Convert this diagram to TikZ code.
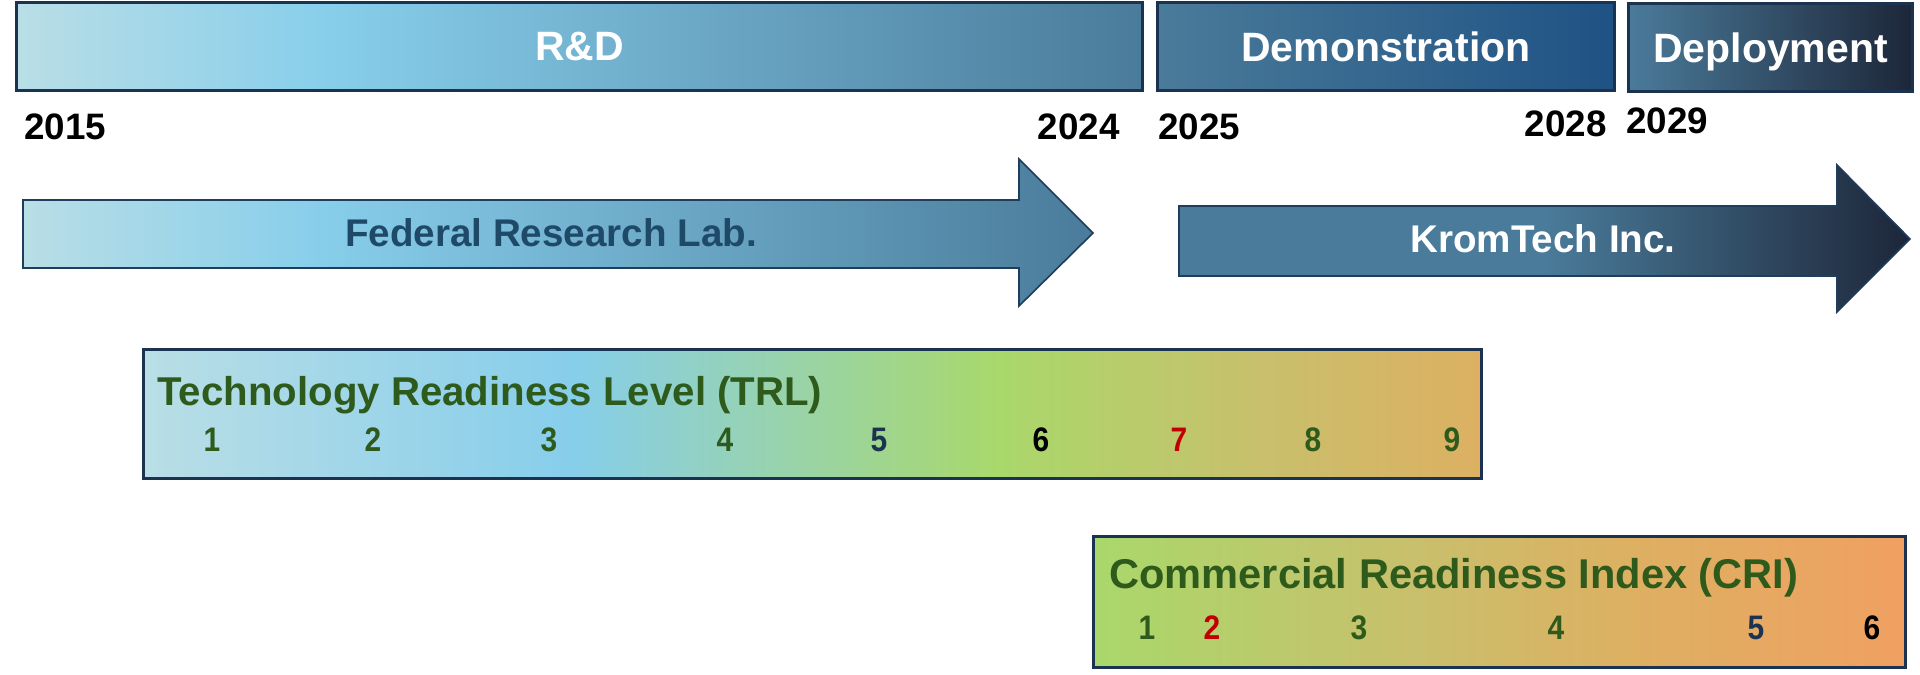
\documentclass[tikz,border=0pt]{standalone}
\usepackage{fontspec}
\setmainfont{Liberation Sans}
\newfontfamily\narrowfont[FakeStretch=0.88]{Liberation Sans}
\usetikzlibrary{positioning}

\definecolor{framenavy}{HTML}{1B3350}
\definecolor{arrowline}{HTML}{1F3D5C}
\definecolor{paleblue}{HTML}{B9DEE6}
\definecolor{skyblue}{HTML}{87CEEB}
\definecolor{steel}{HTML}{4A7B9A}
\definecolor{royal}{HTML}{1F5284}
\definecolor{midnight}{HTML}{1D2639}
\definecolor{lime}{HTML}{A9D86B}
\definecolor{sand}{HTML}{C9BF6C}
\definecolor{ochre}{HTML}{DDB062}
\definecolor{peach}{HTML}{F0A062}
\definecolor{leaf}{HTML}{2E5A1C}
\definecolor{ink}{HTML}{1E4A68}
\definecolor{alert}{HTML}{C00000}

% colour ramps (inner 25bp..75bp fills the path)
\pgfdeclarehorizontalshading{rdfade}{100bp}{color(0bp)=(paleblue); color(25bp)=(paleblue); color(39bp)=(skyblue); color(75bp)=(steel); color(100bp)=(steel)}
\pgfdeclarehorizontalshading{demofade}{100bp}{color(0bp)=(steel); color(25bp)=(steel); color(75bp)=(royal); color(100bp)=(royal)}
\pgfdeclarehorizontalshading{deployfade}{100bp}{color(0bp)=(steel); color(25bp)=(steel); color(75bp)=(midnight); color(100bp)=(midnight)}
\pgfdeclarehorizontalshading{kromfade}{100bp}{color(0bp)=(steel); color(25bp)=(steel); color(50bp)=(steel); color(75bp)=(midnight); color(100bp)=(midnight)}
\pgfdeclarehorizontalshading{trlfade}{100bp}{color(0bp)=(paleblue); color(25bp)=(paleblue); color(41bp)=(skyblue); color(57bp)=(lime); color(67bp)=(sand); color(75bp)=(ochre); color(100bp)=(ochre)}
\pgfdeclarehorizontalshading{crifade}{100bp}{color(0bp)=(lime); color(25bp)=(lime); color(45bp)=(sand); color(58bp)=(ochre); color(75bp)=(peach); color(100bp)=(peach)}

\begin{document}
\begin{tikzpicture}[
        x=0.5pt, y=-0.5pt,
        phase/.style={rectangle, draw=framenavy, line width=1.5pt, minimum height=44pt, inner sep=0pt, text depth=0pt, text=white, font=\fontsize{20.5}{24}\selectfont\bfseries},
        year/.style={inner sep=0pt, font=\fontsize{18.4}{21}\selectfont\bfseries},
        band/.style={draw=arrowline, line width=0.8pt},
        bandlabel/.style={inner sep=0pt, font=\fontsize{19.3}{23}\selectfont\bfseries},
        scalebox/.style={rectangle, draw=framenavy, line width=1.5pt, inner sep=0pt},
        scaletitle/.style={inner sep=0pt, anchor=west, text=leaf},
        level/.style={inner sep=0pt, font=\narrowfont\fontsize{17}{20}\selectfont\bfseries}
    ]

        \fill[white] (0,0) rectangle (1920,674);
        \useasboundingbox (0,0) rectangle (1920,674);

        % Phases
        \node [phase, shading=rdfade, minimum width=563pt] (rd) at (579.5,46.5) {R\&D};
        \node [phase, shading=demofade, minimum width=228.5pt] (demo) at (1386,46.5) {Demonstration};
        \node [phase, shading=deployfade, minimum width=142pt] (deploy) at (1770.5,47.5) {Deployment};

        % Years
        \node [year, anchor=west] (y2015) at (24,127) {2015};
        \node [year, anchor=east] (y2024) at (1120,127) {2024};
        \node [year, anchor=west] (y2025) at (1158,127) {2025};
        \node [year, anchor=east] (y2028) at (1607,124) {2028};
        \node [year, anchor=west] (y2029) at (1626,121) {2029};

        % Actors
        \shade [band, shading=rdfade] (23,200) -- (1019,200) -- (1019,159) -- (1093,233)
            -- (1019,306) -- (1019,268) -- (23,268) -- cycle;
        \node [bandlabel, text=ink] (lab) at (551,233) {Federal Research Lab.};

        \shade [band, shading=kromfade] (1179,206) -- (1837,206) -- (1837,165) -- (1910,239)
            -- (1837,312) -- (1837,276) -- (1179,276) -- cycle;
        \node [bandlabel, text=white] (krom) at (1543,239) {KromTech Inc.};

        % Readiness scales
        \node [scalebox, shading=trlfade, minimum width=669pt, minimum height=64.5pt] (trl) at (812.5,414) {};
        \node [scaletitle, font=\fontsize{20.1}{24}\selectfont\bfseries] (trltitle) at (157,395) {Technology Readiness Level (TRL)};
        \foreach \n/\x/\c in {1/212/leaf, 2/373/leaf, 3/549/leaf, 4/725/leaf, 5/879/framenavy,
                              6/1041/black, 7/1179/alert, 8/1313/leaf, 9/1452/leaf}
            \node [level, text=\c] (trl\n) at (\x,440) {\n};

        \node [scalebox, shading=crifade, minimum width=406pt, minimum height=65.5pt] (cri) at (1499.5,602) {};
        \node [scaletitle, font=\fontsize{20.8}{24}\selectfont\bfseries] (crititle) at (1109,578) {Commercial Readiness Index (CRI)};
        \foreach \n/\x/\c in {1/1147/leaf, 2/1212/alert, 3/1359/leaf, 4/1556/leaf, 5/1756/framenavy, 6/1872/black}
            \node [level, text=\c] (cri\n) at (\x,628) {\n};

    \end{tikzpicture}
\end{document}
